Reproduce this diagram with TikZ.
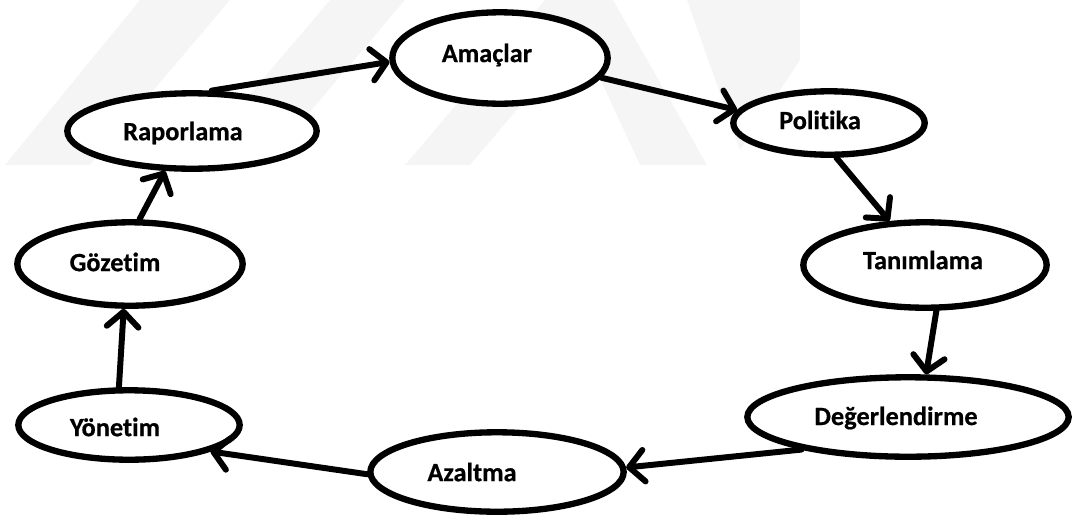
\documentclass[tikz,border=0pt]{standalone}
\usepackage{fontspec}
\setmainfont{Carlito}[BoldFont={Carlito Bold}, BoldFeatures={FakeBold=0.6}, RawFeature=-liga]
\usetikzlibrary{shapes.geometric,arrows.meta}
\tikzset{
  elli/.style 2 args={draw=black, line width=3.6pt, ellipse, fill=white, inner sep=0pt,
    minimum width={#1*0.04cm-6pt}, minimum height={#2*0.04cm-6pt}},
  lbl/.style={font=\fontsize{15}{18}\selectfont\bfseries, inner sep=0pt},
  flow/.style={line width=3.4pt, line cap=round, -{Straight Barb[length=8.5pt,width=18pt,round]}},
  wm/.style={fill=black!4, draw=none}
}
\begin{document}
\begin{tikzpicture}[x=0.02cm, y=-0.02cm]
\useasboundingbox (0,0) rectangle (1078,521);
% faint watermark
\fill[wm] (5,165) -- (90,165) -- (230,0) -- (140,0) -- cycle;
\fill[wm] (190,165) -- (265,165) -- (405,0) -- (330,0) -- cycle;
\fill[wm] (405,165) -- (470,165) -- (580,35) -- (640,165) -- (707,165) -- (613,0) -- (545,0) -- cycle;
\fill[wm] (687,0) -- (800,0) -- (800,60) -- (740,150) -- cycle;
% ellipses
\node[elli={113}{51}] (amac) at (500,58) {};
\node[elli={130}{43}] (rap)  at (192,131) {};
\node[elli={101}{37}] (pol)  at (829,123) {};
\node[elli={127}{48}] (tan)  at (925,265) {};
\node[elli={166}{45}] (deg)  at (908,417) {};
\node[elli={132}{45}] (aza)  at (497,472) {};
\node[elli={116}{40}] (yon)  at (129,425) {};
\node[elli={118}{47}] (goz)  at (130,264) {};
% labels
\node[lbl] (tamac) at (487,55)  {Amaçlar};
\node[lbl] (trap)  at (183,133) {Raporlama};
\node[lbl] (tpol)  at (820,120) {Politika};
\node[lbl] (ttan)  at (923,260) {Tanımlama};
\node[lbl] (tdeg)  at (896,418) {Değerlendirme};
\node[lbl] (taza)  at (472,472) {Azaltma};
\node[lbl] (tyon)  at (115,427) {Yönetim};
\node[lbl] (tgoz)  at (115,262) {Gözetim};
% connectors
\draw[flow] (rap.64) -- (amac.182);
\draw[flow] (amac.-11) -- (pol.172);
\draw[flow] (pol.-78) -- (tan.129);
\draw[flow] (tan.-76) -- (deg.67);
\draw[flow] (deg.197) -- (aza.2);
\draw[flow] (aza.181) -- (yon.-18);
\draw[flow] (yon.105) -- (goz.262);
\draw[flow] (goz.78) -- (rap.236);
\end{tikzpicture}
\end{document}
